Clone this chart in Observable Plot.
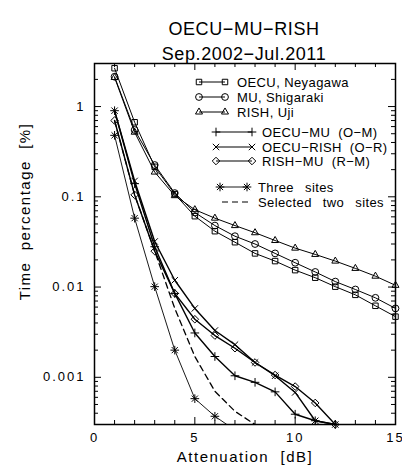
<!DOCTYPE html>
<html><head><meta charset="utf-8">
<script src="https://cdn.jsdelivr.net/npm/d3@7"></script>
<script src="https://cdn.jsdelivr.net/npm/@observablehq/plot@0.6"></script>
<style>
body{margin:0;background:#fff;}
svg text{font-family:"Liberation Sans",Arial,sans-serif;fill:#000;}
g[aria-label="x-axis tick label"] text, g[aria-label="y-axis tick label"] text{letter-spacing:2px;}
</style></head><body><div id="chart"></div>
<script>
// ---- data ----
const titleLines = ["OECU\u2212MU\u2212RISH", "Sep.2002\u2212Jul.2011"];
const xLabel = "Attenuation  [dB]";
const yLabel = "Time  percentage  [%]";
const attenuation = [1,2,3,4,5,6,7,8,9,10,11,12,13,14,15];
const oecuNeyagawa = [2.66,0.67,0.215,0.107,0.061,0.0416,0.0314,0.0236,0.0194,0.0154,0.0127,0.0101,0.0082,0.0062,0.0047];
const muShigaraki  = [2.14,0.55,0.225,0.110,0.067,0.048,0.0366,0.030,0.0236,0.0186,0.0147,0.0115,0.0094,0.0076,0.0058];
const rishUji      = [2.10,0.52,0.188,0.103,0.072,0.058,0.048,0.040,0.0328,0.027,0.023,0.0194,0.0161,0.0132,0.01045];
const oecuMu   = [0.90,0.14,0.028,0.0085,0.0031,0.0017,0.00104,0.00088,0.00069,0.00039,0.00033,0.0003];
const oecuRish = [0.90,0.15,0.032,0.0119,0.0058,0.0033,0.0023,0.00146,0.00104,0.00068,0.00033,0.0003];
const rishMu   = [0.70,0.105,0.025,0.0085,0.0044,0.0029,0.0021,0.00146,0.00106,0.00079,0.00052,0.0003];
const threeSites  = [0.48,0.058,0.0101,0.0020,0.00058,0.00037,0.00026];
const selectedTwo = [0.70,0.105,0.025,0.0058,0.0017,0.0007,0.00042,0.0003];
const xTicks = [0,5,10,15];
const yTicks = [0.001,0.01,0.1,1];
const yTickLabels = ["0.001","0.01","0.1","1"];
const legendNames = ["OECU, Neyagawa","MU, Shigaraki","RISH, Uji","OECU\u2212MU  (O\u2212M)","OECU\u2212RISH  (O\u2212R)","RISH\u2212MU  (R\u2212M)","Three  sites","Selected  two  sites"];

// ---- layout ----
const W = 402, H = 471, mT = 63, mB = 47, mL = 94, mR = 7;
const frameW = W - mL - mR, frameH = H - mT - mB;
const yMin = 0.0003, yMax = 3;

const series = [
  {name: legendNames[0], values: oecuNeyagawa, symbols: ["square"], r: 3.1, sw: 1},
  {name: legendNames[1], values: muShigaraki, symbols: ["circle"], r: 3.4, sw: 1},
  {name: legendNames[2], values: rishUji, symbols: ["triangle"], r: 2.6, sw: 1},
  {name: legendNames[3], values: oecuMu, symbols: ["plus"], r: 2.9, sw: 1.4},
  {name: legendNames[4], values: oecuRish, symbols: ["times"], r: 3.0, sw: 1.4},
  {name: legendNames[5], values: rishMu, symbols: ["diamond2"], r: 3.4, sw: 1.4},
  {name: legendNames[6], values: threeSites, symbols: ["plus","times"], r: 2.9, sw: 0.9},
  {name: legendNames[7], values: selectedTwo, symbols: [], r: 0, sw: 1.3, dash: "6,4"}
];
const rowsOf = s => s.values.map((v, i) => ({x: attenuation[i], y: v}));

const marks = [];
for (const s of series) {
  marks.push(Plot.line(rowsOf(s), {x: "x", y: "y", stroke: "black", strokeWidth: s.sw, strokeDasharray: s.dash, clip: true}));
  for (const sym of s.symbols) {
    marks.push(Plot.dot(rowsOf(s).filter(d => d.y >= yMin * 0.999), {x: "x", y: "y", symbol: sym, r: s.r, stroke: "black", fill: "none", strokeWidth: 1}));
  }
}
// inward ticks on all four sides
const xAll = d3.range(0, 16);
const xMinor = xAll.filter(d => !xTicks.includes(d));
const yMinor = [];
for (let e = -4; e <= 0; e++) for (let k = 2; k <= 9; k++) { const v = k * Math.pow(10, e); if (v >= yMin && v <= yMax) yMinor.push(v); }
const tk = (len) => frameH - len, tkw = (len) => frameW - len;
marks.push(
  Plot.ruleX(xMinor, {x: d => d, insetTop: tk(4), stroke: "black"}),
  Plot.ruleX(xTicks, {x: d => d, insetTop: tk(7), stroke: "black"}),
  Plot.ruleX(xMinor, {x: d => d, insetBottom: tk(4), stroke: "black"}),
  Plot.ruleX(xTicks, {x: d => d, insetBottom: tk(7), stroke: "black"}),
  Plot.ruleY(yMinor, {y: d => d, insetRight: tkw(4), stroke: "black"}),
  Plot.ruleY(yTicks, {y: d => d, insetRight: tkw(7), stroke: "black"}),
  Plot.ruleY(yMinor, {y: d => d, insetLeft: tkw(4), stroke: "black"}),
  Plot.ruleY(yTicks, {y: d => d, insetLeft: tkw(7), stroke: "black"}),
  Plot.axisX({ticks: xTicks, tickSize: 0, tickPadding: 8, fontSize: 13, label: null}),
  Plot.axisY({ticks: yTicks, tickSize: 0, tickPadding: 9, fontSize: 13, label: null, tickFormat: d => yTickLabels[yTicks.indexOf(d)]}),
  Plot.frame({stroke: "black", strokeWidth: 1.5}),
  Plot.text([titleLines[0]], {text: d => d, frameAnchor: "top", textAnchor: "middle", dx: -1, dy: -41, fontSize: 18}),
  Plot.text([titleLines[1]], {text: d => d, frameAnchor: "top", textAnchor: "middle", dx: -1, dy: -16.5, fontSize: 18}),
  Plot.text([xLabel], {text: d => d, frameAnchor: "bottom", textAnchor: "middle", dy: 37, fontSize: 15}),
  Plot.text([yLabel], {text: d => d, frameAnchor: "left", textAnchor: "middle", rotate: -90, dx: -69, dy: -32.5, fontSize: 15})
);

const chart = Plot.plot({
  width: W, height: H, marginTop: mT, marginBottom: mB, marginLeft: mL, marginRight: mR,
  x: {domain: [0, 15]},
  y: {type: "log", domain: [yMin, yMax]},
  style: {background: "white", fontFamily: "Liberation Sans, Arial, sans-serif"},
  marks
});
document.getElementById("chart").appendChild(chart);

const svg = d3.select(chart);
svg.selectAll("text").each(function() {
  const t = this.textContent;
  if (titleLines.includes(t)) this.style.letterSpacing = "0.6px";
  if (t === xLabel || t === yLabel) this.style.letterSpacing = "1.5px";
});

// ---- legend (inside the frame, upper right) ----
const symType = {square: d3.symbolSquare, circle: d3.symbolCircle, triangle: d3.symbolTriangle, plus: d3.symbolPlus, times: d3.symbolTimes, diamond2: d3.symbolDiamond2};
const legendLayout = [
  {y: 82, x1: 199, x2: 225, tx: 237},
  {y: 97, x1: 199, x2: 225, tx: 237},
  {y: 112, x1: 199, x2: 225, tx: 237},
  {y: 132, x1: 216, x2: 252, tx: 262},
  {y: 147, x1: 216, x2: 252, tx: 262},
  {y: 161, x1: 216, x2: 252, tx: 262},
  {y: 187, x1: 220, x2: 247, tx: 258},
  {y: 202, x1: 222, x2: 250, tx: 258}
];
const lg = svg.append("g").attr("aria-label", "legend").attr("text-anchor", "start");
series.forEach((s, i) => {
  const L = legendLayout[i];
  lg.append("line").attr("x1", L.x1).attr("x2", L.x2).attr("y1", L.y).attr("y2", L.y)
    .attr("stroke", "black").attr("stroke-width", Math.min(s.sw, 1.2)).attr("stroke-dasharray", s.dash || null);
  for (const sym of s.symbols) {
    for (const px of [L.x1, L.x2]) {
      lg.append("path").attr("d", d3.symbol(symType[sym], Math.PI * s.r * s.r)())
        .attr("transform", `translate(${px},${L.y})`).attr("fill", "none").attr("stroke", "black");
    }
  }
  lg.append("text").attr("x", L.tx).attr("y", L.y).attr("dy", "0.35em").attr("font-size", 13)
    .attr("text-anchor", "start").style("letter-spacing", "0.4px").style("word-spacing", i >= 6 ? "1.5px" : "0px").text(s.name);
});
</script></body></html>
